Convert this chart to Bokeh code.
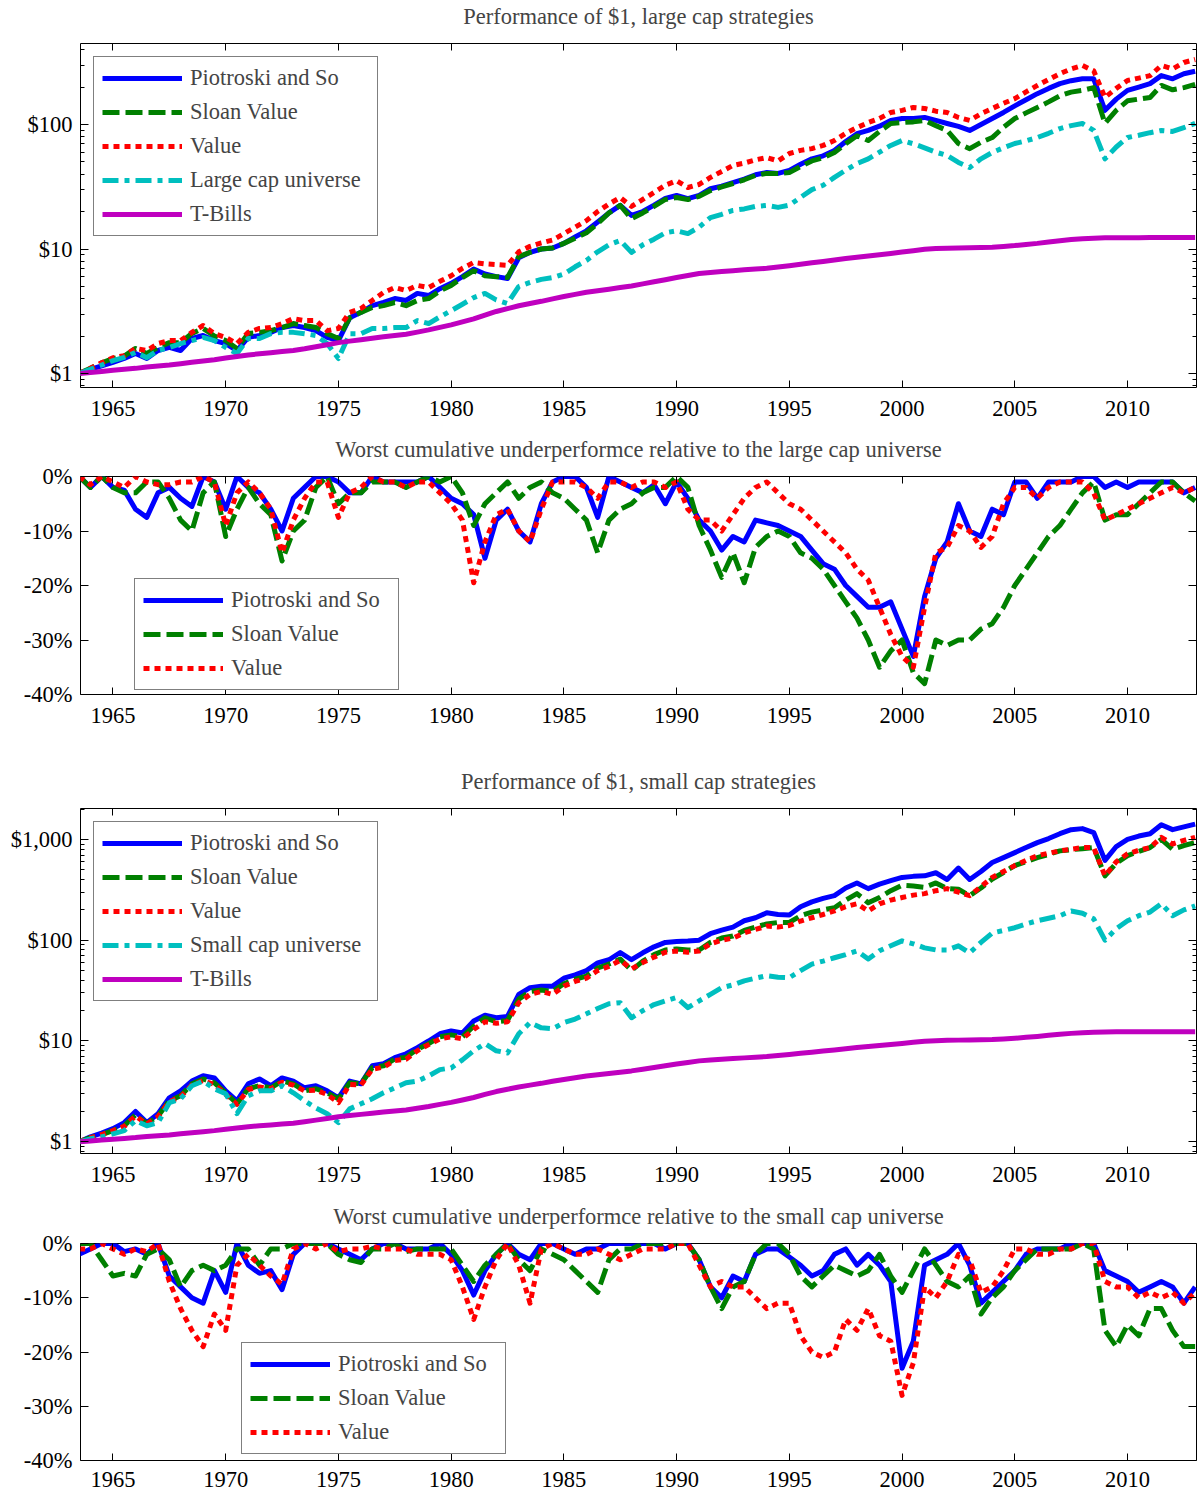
from bokeh.plotting import figure
from bokeh.layouts import column
from bokeh.models import (Range1d, FixedTicker, NumeralTickFormatter, PrintfTickFormatter,
                          LinearAxis, LogAxis, Legend, LegendItem)
from bokeh.embed import file_html
from bokeh.resources import INLINE

FONT = "Liberation Serif"

# time axis: half-year steps from mid-1963 to 2013
YEARS = [1963.5 + 0.5 * i for i in range(100)]
XTICKS = [1965, 1970, 1975, 1980, 1985, 1990, 1995, 2000, 2005, 2010]

# ---------------- Large cap, growth of $1 ----------------
LG_PIOTROSKI = [
    1.00, 1.08, 1.15, 1.23, 1.32, 1.45, 1.32, 1.53, 1.62, 1.53,
    1.91, 2.02, 1.84, 1.74, 1.53, 1.95, 2.02, 2.14, 2.34, 2.43,
    2.34, 2.21, 1.95, 1.84, 2.80, 3.10, 3.51, 3.72, 4.00, 3.86,
    4.40, 4.23, 4.80, 5.30, 6.00, 6.90, 6.30, 6.00, 5.80, 8.50,
    9.40, 10.0, 10.2, 11.1, 12.5, 14.0, 16.5, 19.5, 22.4, 18.6,
    20.0, 22.5, 25.5, 26.9, 25.4, 27.0, 30.5, 32.0, 34.2, 36.5,
    39.5, 41.2, 40.5, 42.8, 48.0, 53.0, 56.0, 61.9, 73.0, 84.4,
    89.6, 97.0, 107.9, 111.7, 112.0, 114.0, 108.0, 101.9, 96.5, 89.6,
    100.0, 111.7, 125.0, 141.2, 158.0, 177.0, 195.0, 213.0, 225.0, 233.0,
    233.0, 130.0, 160.0, 188.0, 200.0, 213.0, 247.0, 233.0, 256.0, 268.0]
LG_SLOAN = [
    1.00, 1.10, 1.22, 1.32, 1.38, 1.59, 1.45, 1.62, 1.77, 1.77,
    2.10, 2.30, 2.00, 1.84, 1.59, 2.10, 2.14, 2.21, 2.34, 2.52,
    2.43, 2.34, 2.09, 1.91, 2.80, 3.10, 3.39, 3.51, 3.72, 3.51,
    3.86, 4.00, 4.60, 5.10, 5.90, 6.70, 6.10, 6.00, 5.90, 8.70,
    9.40, 10.0, 10.2, 11.1, 12.2, 13.5, 16.0, 19.5, 22.4, 17.5,
    19.5, 22.0, 25.0, 25.9, 25.0, 26.5, 29.5, 31.5, 33.6, 36.0,
    39.0, 40.5, 40.5, 41.2, 46.0, 51.0, 54.0, 59.6, 70.0, 81.3,
    74.4, 88.0, 101.9, 103.7, 105.0, 107.9, 98.0, 89.6, 70.4, 64.0,
    72.0, 78.6, 95.0, 111.7, 124.0, 137.0, 152.0, 170.0, 182.0, 188.0,
    198.0, 102.0, 130.0, 155.0, 160.0, 165.0, 206.0, 190.0, 198.0, 210.0]
LG_VALUE = [
    1.00, 1.10, 1.22, 1.34, 1.39, 1.59, 1.53, 1.74, 1.84, 1.84,
    2.14, 2.43, 2.09, 1.95, 1.74, 2.14, 2.30, 2.34, 2.52, 2.76,
    2.66, 2.66, 2.21, 2.30, 3.10, 3.33, 3.86, 4.47, 4.90, 4.64,
    5.10, 4.90, 5.50, 6.10, 7.00, 7.80, 7.60, 7.50, 7.40, 9.50,
    10.5, 11.2, 11.8, 13.3, 15.0, 16.9, 20.0, 23.0, 25.9, 22.0,
    25.0, 28.5, 32.5, 35.4, 31.2, 33.0, 37.6, 42.0, 46.9, 49.0,
    52.0, 54.3, 51.0, 58.5, 62.0, 64.0, 68.0, 74.4, 85.0, 94.5,
    103.7, 112.0, 124.9, 130.0, 137.0, 134.5, 128.0, 124.9, 114.0, 108.0,
    122.0, 134.5, 148.0, 161.3, 183.0, 206.0, 230.0, 256.0, 280.0, 298.0,
    270.0, 165.0, 195.0, 226.0, 236.0, 247.0, 298.0, 280.0, 315.0, 333.0]
LG_UNIVERSE = [
    1.00, 1.08, 1.17, 1.27, 1.35, 1.48, 1.34, 1.53, 1.62, 1.74,
    1.84, 1.95, 1.84, 1.62, 1.45, 1.91, 1.91, 2.09, 2.14, 2.14,
    2.09, 2.02, 1.74, 1.32, 2.09, 2.09, 2.30, 2.30, 2.34, 2.34,
    2.66, 2.52, 2.85, 3.20, 3.60, 4.07, 4.40, 3.90, 3.65, 5.00,
    5.40, 5.70, 5.90, 6.30, 7.20, 8.10, 9.50, 10.8, 11.7, 9.40,
    10.8, 12.0, 13.5, 14.0, 13.3, 15.0, 17.9, 19.0, 20.4, 21.0,
    22.0, 22.4, 21.6, 22.5, 26.0, 30.0, 32.5, 37.6, 43.0, 48.6,
    53.0, 60.0, 67.9, 74.4, 70.0, 65.0, 60.0, 56.3, 49.6, 45.1,
    53.0, 59.6, 65.0, 70.4, 74.0, 78.6, 85.0, 92.7, 98.0, 101.9,
    89.6, 53.0, 66.0, 78.6, 82.0, 86.0, 89.6, 88.0, 94.5, 102.0]
TBILLS = [
    1.00, 1.02, 1.04, 1.06, 1.08, 1.10, 1.13, 1.15, 1.17, 1.20,
    1.23, 1.26, 1.29, 1.33, 1.37, 1.41, 1.44, 1.47, 1.50, 1.53,
    1.58, 1.64, 1.70, 1.77, 1.82, 1.87, 1.92, 1.97, 2.02, 2.07,
    2.15, 2.24, 2.35, 2.46, 2.60, 2.75, 2.95, 3.15, 3.32, 3.50,
    3.65, 3.80, 3.98, 4.15, 4.32, 4.50, 4.62, 4.75, 4.90, 5.05,
    5.25, 5.45, 5.67, 5.90, 6.12, 6.35, 6.48, 6.60, 6.70, 6.80,
    6.90, 7.00, 7.17, 7.35, 7.55, 7.75, 7.95, 8.15, 8.38, 8.60,
    8.80, 9.00, 9.22, 9.45, 9.70, 9.95, 10.08, 10.15, 10.20, 10.25,
    10.30, 10.35, 10.48, 10.65, 10.88, 11.10, 11.38, 11.65, 11.90, 12.10,
    12.20, 12.30, 12.32, 12.33, 12.34, 12.35, 12.35, 12.36, 12.36, 12.37]

# ---------------- Large cap, worst cumulative underperformance (%) ----------------
LG_DD_PIOTROSKI = [
    0, -2, 0, -2, -2.5, -6, -7.5, -3, -2, -4,
    -5.5, 0, -1, -6, 0, -2, -3, -6, -10, -4,
    -2, 0, 0, -1, -3, -3, 0, -1, -1, -1,
    -1, 0, -2, -4, -5, -7, -15, -8, -6, -10,
    -12, -5, -1, 0, 0, -2, -7.5, 0, -1, -2,
    -3, -1.5, -5, -1, -4, -8, -10, -13.5, -11, -12,
    -8, -8.5, -9, -10, -11, -13.5, -16, -17, -20, -22,
    -24, -24, -23, -28, -33, -22, -15, -12, -5, -10,
    -11, -6, -7, -1, -1, -4, -1, -1, -1, 0,
    0, -2, -1, -2, -1, -1, -1, -1, -3, -2]
LG_DD_SLOAN = [
    0, -2, 0, -2, -3, -3, -1, -1, -4, -8,
    -10, -3, -1, -11, -6, -2, -5, -7, -15.5, -10,
    -8, -2, 0, -5, -3, -3, -1, -1, -1, -2,
    -1, 0, -1, 0, -3, -9, -5, -3, -1, -4,
    -2, -1, -3, -4, -6, -8, -14, -8, -6, -5,
    -3, -2, -2, 0, -2, -9, -13.5, -18.5, -14, -19.5,
    -13, -11, -10, -11, -14, -15, -17, -20, -23, -26,
    -30, -35, -32, -30, -36, -38, -30, -31, -30, -30,
    -28, -27, -24, -20, -17, -14, -11, -9, -6, -3,
    -1, -8, -7, -7, -5, -3, -1, -1, -3, -4.5]
LG_DD_VALUE = [
    0, -1.5, 0, -1, -2, 0, -1, -1.5, -1.5, -1,
    -1, 0, -1, -9, -3, -1, -3, -6, -14, -8,
    -4, -1, -1, -7.5, -3, -2, 0, -1, -1, -2,
    -1, -1, -3, -5, -8, -19.5, -12, -7, -6, -10,
    -12, -6, -1, -1, -1, -2, -4, -1, -1, -2,
    -1, -1, -2, -1, -6, -8, -8, -10, -7, -4,
    -2, -1, -3, -5, -6, -8, -10, -12, -14, -17,
    -19, -24, -29, -33, -35, -24, -14, -13, -9, -10,
    -13, -11, -5, -2, -2, -4, -2, -1, -1, -1,
    -3, -8, -7, -6, -5, -4, -3, -2, -3, -2]

# ---------------- Small cap, growth of $1 ----------------
SM_PIOTROSKI = [
    1.00, 1.12, 1.22, 1.35, 1.55, 2.00, 1.55, 1.90, 2.73, 3.20,
    4.00, 4.52, 4.30, 3.20, 2.55, 3.76, 4.20, 3.60, 4.30, 4.00,
    3.43, 3.60, 3.20, 2.73, 4.00, 3.76, 5.67, 5.95, 6.83, 7.47,
    8.60, 10.0, 11.8, 12.6, 12.0, 15.8, 18.0, 17.0, 17.5, 29.0,
    33.8, 35.0, 35.0, 42.0, 45.3, 50.0, 59.6, 64.0, 75.5, 64.0,
    75.0, 86.0, 95.0, 97.0, 98.0, 100.0, 116.0, 126.0, 135.0, 156.0,
    167.0, 187.0, 180.0, 178.0, 215.0, 240.0, 260.0, 277.0, 330.0, 370.0,
    325.0, 360.0, 390.0, 420.0, 430.0, 435.0, 467.0, 400.0, 520.0, 400.0,
    480.0, 590.0, 660.0, 740.0, 830.0, 930.0, 1020.0, 1140.0, 1250.0, 1280.0,
    1170.0, 620.0, 850.0, 1000.0, 1080.0, 1140.0, 1400.0, 1250.0, 1330.0, 1420.0]
SM_SLOAN = [
    1.00, 1.10, 1.18, 1.29, 1.44, 1.85, 1.51, 1.80, 2.55, 2.86,
    3.76, 4.20, 3.85, 3.06, 2.38, 3.36, 3.60, 3.43, 4.00, 3.76,
    3.20, 3.36, 3.06, 2.67, 3.85, 3.76, 5.43, 5.67, 6.65, 6.90,
    8.30, 9.40, 11.0, 11.5, 11.0, 14.0, 17.0, 15.5, 16.0, 26.0,
    31.0, 32.0, 31.0, 37.0, 41.0, 44.0, 53.0, 58.0, 65.0, 50.0,
    62.0, 72.0, 80.0, 82.0, 80.0, 80.0, 95.0, 105.0, 110.0, 125.0,
    135.0, 145.0, 150.0, 150.0, 175.0, 190.0, 200.0, 210.0, 250.0, 290.0,
    235.0, 265.0, 310.0, 350.0, 345.0, 335.0, 370.0, 325.0, 320.0, 277.0,
    330.0, 405.0, 470.0, 550.0, 600.0, 660.0, 710.0, 770.0, 790.0, 810.0,
    830.0, 435.0, 580.0, 690.0, 760.0, 830.0, 1000.0, 800.0, 870.0, 930.0]
SM_VALUE = [
    1.00, 1.10, 1.18, 1.29, 1.42, 1.80, 1.50, 1.78, 2.50, 2.80,
    3.65, 4.05, 3.70, 2.95, 2.35, 3.30, 3.50, 3.35, 3.90, 3.65,
    3.20, 3.25, 2.95, 2.44, 3.70, 3.65, 5.25, 5.50, 6.40, 6.60,
    8.00, 9.20, 10.5, 11.0, 10.5, 13.0, 15.5, 15.0, 15.5, 24.0,
    29.0, 31.0, 29.0, 35.0, 39.0, 42.0, 50.0, 55.0, 63.0, 52.0,
    60.0, 68.0, 76.0, 78.0, 76.0, 78.0, 92.0, 100.0, 105.0, 118.0,
    128.0, 138.0, 135.0, 140.0, 155.0, 167.0, 180.0, 195.0, 215.0, 230.0,
    195.0, 230.0, 250.0, 265.0, 280.0, 290.0, 310.0, 325.0, 300.0, 277.0,
    340.0, 420.0, 480.0, 550.0, 620.0, 690.0, 730.0, 770.0, 800.0, 830.0,
    830.0, 435.0, 600.0, 720.0, 780.0, 830.0, 1050.0, 900.0, 980.0, 1050.0]
SM_UNIVERSE = [
    1.00, 1.07, 1.12, 1.20, 1.29, 1.62, 1.44, 1.55, 2.44, 2.67,
    3.60, 4.00, 3.36, 3.00, 1.90, 2.86, 3.20, 3.20, 3.60, 3.06,
    2.55, 2.17, 1.90, 1.55, 2.12, 2.38, 2.67, 3.06, 3.43, 3.85,
    4.00, 4.50, 5.20, 5.40, 6.50, 8.00, 9.40, 8.00, 7.60, 11.8,
    15.2, 13.5, 13.2, 15.2, 16.5, 18.6, 21.0, 23.4, 24.0, 17.0,
    20.0, 23.0, 25.0, 27.0, 21.4, 25.0, 29.0, 33.8, 36.0, 39.5,
    42.0, 44.5, 43.0, 42.5, 50.0, 58.0, 62.0, 67.0, 72.0, 78.5,
    65.0, 78.5, 88.0, 98.5, 92.0, 84.0, 80.0, 80.0, 88.0, 75.0,
    95.0, 118.0, 125.0, 133.0, 145.0, 156.0, 165.0, 175.0, 195.0, 185.0,
    163.0, 100.0, 130.0, 156.0, 175.0, 190.0, 230.0, 175.0, 200.0, 219.0]

# ---------------- Small cap, worst cumulative underperformance (%) ----------------
SM_DD_PIOTROSKI = [
    -2, -1, 0, 0, -1.5, -1, -2, 0, -6, -8,
    -10, -11, -5, -9, 0, -4, -5.5, -5, -8.5, -2,
    0, 0, 0, -1, -2, -3, -1, 0, 0, -1,
    -1, -1, 0, -2, -5, -9.5, -5, -2, 0, -2,
    -3, 0, 0, -1, -2, -1, -1, 0, 0, 0,
    0, 0, -1, 0, 0, -3, -8, -10, -6, -7,
    -2, -1, -1, -2.5, -4, -6, -5, -2, -1, -4,
    -2, -4, -7, -23, -18, -4, -3, -2, 0, -4,
    -11, -9, -7, -5, -2, -1, -1, -1, 0, 0,
    0, -5, -6, -7, -9, -8, -7, -8, -11, -8]
SM_DD_SLOAN = [
    0, 0, -3, -6, -5.5, -6, -2, -1, -3, -8,
    -5, -4, -5, -4, -1, -1, -4, -1, -1, 0,
    0, 0, 0, -2, -3, -3.5, -1, -1, 0, -1.5,
    -1, -1, -1, -1, -4, -7, -4, -2, 0, -3,
    -5, -1, -2, -3, -5, -7, -9, -3, -1, -1,
    0, 0, 0, 0, 0, -3, -8, -12, -8, -7,
    -2, 0, 0, -2, -6, -8, -6, -4, -5, -6,
    -5, -2, -6, -9, -5, -1, -4, -7, -8, -6,
    -13, -10, -8, -5, -3, -1, -1, -1, -1, 0,
    -1, -16, -19, -15, -17, -12, -12, -16, -19, -19]
SM_DD_VALUE = [
    -1, -1, 0, -1, -2, -1, -1.5, 0, -7, -12,
    -16, -19, -13, -16, -4, -2, -4, -6, -7.5, -1,
    0, -1, 0, -1.5, -1, -1, -0.5, -1, -1, -1,
    -2, -2, -2, -3, -8, -14, -8, -3, 0, -4,
    -11, -1, 0, -1, -2, -2, -1, -2, -3, -2,
    -1, -1, -1, 0, 0, -4, -8, -7, -8, -8,
    -10, -12, -11, -11, -17, -20, -21, -20, -14, -16,
    -12, -17, -18, -28, -22, -8, -10, -7, -2, -3,
    -9, -8, -5, -1, -1, -2, -2, -1, -1, 0,
    0, -7, -8, -8, -10, -9, -10, -9, -11, -9]

STYLES = {
    "Piotroski and So": dict(line_color="#0000FF", line_dash="solid"),
    "Sloan Value": dict(line_color="#008000", line_dash="17 6"),
    "Value": dict(line_color="#FF0000", line_dash="6 5"),
    "universe": dict(line_color="#00BFBF", line_dash="16 6 5 6"),
    "T-Bills": dict(line_color="#BF00BF", line_dash="solid"),
}

FRAME_W = 1116
X_RANGE = (1963.56, 2013.06)
FS = "22.5px"


def cfg_axis(ax, ticker, formatter=None, labels=True, tick_in=7, minor_in=0, standoff=13):
    ax.ticker = ticker
    if formatter is not None:
        ax.formatter = formatter
    ax.axis_line_color = None
    ax.major_tick_in = tick_in
    ax.major_tick_out = 0
    ax.minor_tick_in = minor_in
    ax.minor_tick_out = 0
    ax.major_tick_line_color = "black"
    ax.minor_tick_line_color = "black" if minor_in else None
    ax.major_label_text_font = FONT
    if labels:
        ax.major_label_text_font_size = FS
        ax.major_label_standoff = standoff
        ax.major_label_text_color = "black"
    else:
        ax.major_label_text_font_size = "0px"
        ax.major_label_standoff = 0
        ax.major_label_text_color = None


def make_panel(title, series, log, y_range, yticks, yminor, yfmt, frame_h, top, bottom,
               legend_loc, label_width, x_standoff=13):
    kw = dict(frame_width=FRAME_W, frame_height=frame_h, output_backend="svg",
              toolbar_location=None,
              x_range=Range1d(*X_RANGE), y_range=Range1d(*y_range),
              min_border_left=80, min_border_right=2, min_border_top=top,
              min_border_bottom=bottom)
    if log:
        kw["y_axis_type"] = "log"
    p = figure(**kw)
    p.title.text = title
    p.title.align = "center"
    p.title.text_font = FONT
    p.title.text_font_size = FS
    p.title.text_font_style = "normal"
    p.title.standoff = 3
    p.outline_line_color = "black"
    p.outline_line_width = 1
    p.xgrid.visible = False
    p.ygrid.visible = False
    p.background_fill_color = "white"

    cfg_axis(p.xaxis[0], FixedTicker(ticks=XTICKS), standoff=x_standoff)
    # mirrored top axis: inward ticks, blank labels (reserve a little room under the title)
    top_ax = LinearAxis(ticker=FixedTicker(ticks=XTICKS))
    top_ax.axis_line_color = None
    top_ax.major_tick_in = 7
    top_ax.major_tick_out = 0
    top_ax.minor_tick_line_color = None
    top_ax.major_label_overrides = {t: " " for t in XTICKS}
    top_ax.major_label_text_font = FONT
    top_ax.major_label_text_font_size = "8px"
    top_ax.major_label_standoff = 1
    p.add_layout(top_ax, "above")

    yt = FixedTicker(ticks=yticks, minor_ticks=yminor)
    cfg_axis(p.yaxis[0], yt, yfmt, tick_in=8, minor_in=4 if yminor else 0, standoff=8)
    right_ax = LogAxis() if log else LinearAxis()
    cfg_axis(right_ax, FixedTicker(ticks=yticks, minor_ticks=yminor), labels=False,
             tick_in=8, minor_in=4 if yminor else 0)
    p.add_layout(right_ax, "right")

    items = []
    for label, vals in series:
        key = "universe" if "universe" in label else label
        r = p.line(YEARS, vals, line_width=5, line_join="round", **STYLES[key])
        items.append(LegendItem(label=label, renderers=[r]))
    leg = Legend(items=items, location=legend_loc)
    leg.label_text_font = FONT
    leg.label_text_font_size = FS
    leg.glyph_width = 80
    leg.glyph_height = 20
    leg.label_height = 20
    leg.label_width = label_width
    leg.label_standoff = 8
    leg.spacing = 8
    leg.padding = 8
    leg.margin = 13
    leg.border_line_color = "black"
    leg.border_line_width = 1
    leg.background_fill_color = "white"
    leg.background_fill_alpha = 1.0
    p.add_layout(leg)
    return p


LOG_MINOR_1 = [0.8, 0.9, 2, 3, 4, 5, 6, 7, 8, 9, 20, 30, 40, 50, 60, 70, 80, 90, 200, 300, 400]
LOG_MINOR_3 = [0.8, 0.9, 2, 3, 4, 5, 6, 7, 8, 9, 20, 30, 40, 50, 60, 70, 80, 90,
               200, 300, 400, 500, 600, 700, 800, 900, 2000]
DD_TICKS = [0, -10, -20, -30, -40]

p1 = make_panel("Performance of $1, large cap strategies",
                [("Piotroski and So", LG_PIOTROSKI), ("Sloan Value", LG_SLOAN),
                 ("Value", LG_VALUE), ("Large cap universe", LG_UNIVERSE), ("T-Bills", TBILLS)],
                True, (0.772, 447.5), [1, 10, 100], LOG_MINOR_1,
                NumeralTickFormatter(format="$0,0"), 344, 43, 45, "top_left", 179)

p2 = make_panel("Worst cumulative underperformce relative to the large cap universe",
                [("Piotroski and So", LG_DD_PIOTROSKI), ("Sloan Value", LG_DD_SLOAN),
                 ("Value", LG_DD_VALUE)],
                False, (-40, 0), DD_TICKS, [], PrintfTickFormatter(format="%d%%"),
                218, 44, 48, (54, 4), 159)

p3 = make_panel("Performance of $1, small cap strategies",
                [("Piotroski and So", SM_PIOTROSKI), ("Sloan Value", SM_SLOAN),
                 ("Value", SM_VALUE), ("Small cap universe", SM_UNIVERSE), ("T-Bills", TBILLS)],
                True, (0.765, 2027), [1, 10, 100, 1000], LOG_MINOR_3,
                NumeralTickFormatter(format="$0,0"), 345, 66, 45, "top_left", 179)

p4 = make_panel("Worst cumulative underperformce relative to the small cap universe",
                [("Piotroski and So", SM_DD_PIOTROSKI), ("Sloan Value", SM_DD_SLOAN),
                 ("Value", SM_DD_VALUE)],
                False, (-40, 0), DD_TICKS, [], PrintfTickFormatter(format="%d%%"),
                217, 45, 36, (161, 6), 159, x_standoff=11)

layout = column(p1, p2, p3, p4, spacing=0)
open("out.html", "w").write(file_html(layout, INLINE))
